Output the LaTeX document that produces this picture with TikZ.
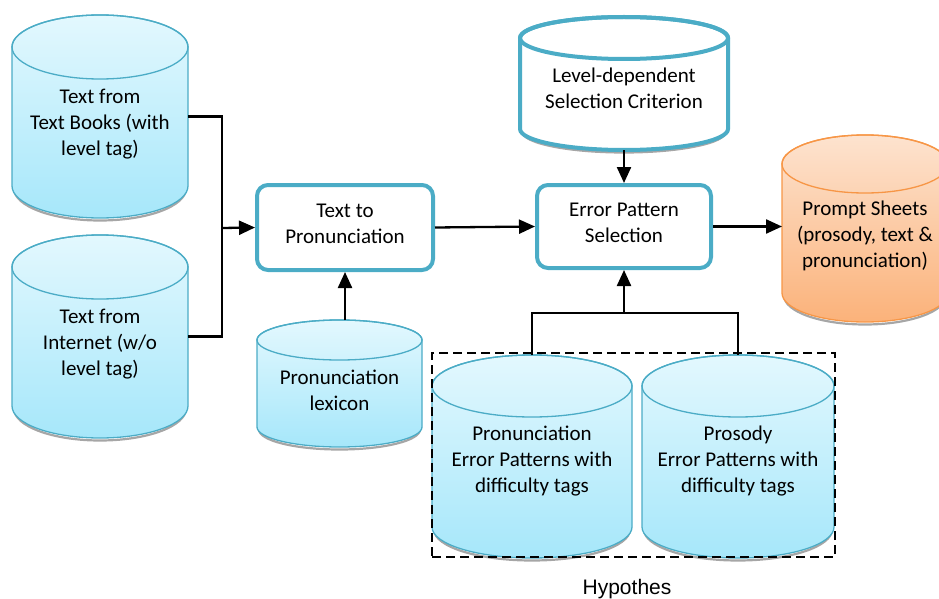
\documentclass[tikz,border=0pt]{standalone}
\usepackage{fontspec}
\setmainfont{Carlito}
\newfontfamily\hypfont{Liberation Sans}
\usetikzlibrary{arrows.meta,calc}
\definecolor{cylTop}{HTML}{E3F8FE}
\definecolor{cylBot}{HTML}{A6E7FA}
\definecolor{cylLine}{HTML}{4BACC6}
\definecolor{orTop}{HTML}{FDE3CF}
\definecolor{orBot}{HTML}{FBB27A}
\definecolor{orLine}{HTML}{F79646}
\tikzset{
  bluecyl/.style={draw=cylLine, line width=1.3pt, top color=cylTop, bottom color=cylBot},
  bluecyl line/.style={draw=cylLine, line width=1.3pt},
  orcyl/.style={draw=orLine, line width=1.3pt, top color=orTop, bottom color=orBot},
  orcyl line/.style={draw=orLine, line width=1.3pt},
  whitecyl/.style={draw=cylLine, line width=4pt, fill=white},
  whitecyl line/.style={draw=cylLine, line width=4pt},
  shadowline/.style={draw=gray!70, line width=2.2pt},
  cylnode/.style={inner sep=0pt, outer sep=0pt},
  txt/.style={align=center, font=\fontsize{21}{26}\selectfont, inner sep=0pt},
  procbox/.style={draw=cylLine, line width=4pt, fill=white, rounded corners=11pt},
  conn/.style={line width=2.3pt, draw=black},
  arr/.style={conn, -{Triangle[length=16pt,width=14pt]}},
  dashbox/.style={draw=black, line width=2.8pt, dash pattern=on 9pt off 5pt, inner sep=0pt},
}
% #1 name, #2 cx, #3 top-ellipse cy, #4 bottom-ellipse cy, #5 rx, #6 ry, #7 style, #8 text shift, #9 text
\newcommand\cylshape[9]{%
  \draw[shadowline] (#2-#5+2,#4+2.5) arc[start angle=180,end angle=0,x radius=#5-2,y radius=#6];
  \path[#7] (#2-#5,#3) -- (#2-#5,#4) arc[start angle=180,end angle=0,x radius=#5,y radius=#6]
     -- (#2+#5,#3) arc[start angle=0,end angle=-180,x radius=#5,y radius=#6] -- cycle;
  \draw[#7 line] (#2,#3) ellipse[x radius=#5,y radius=#6];
  \node[cylnode, minimum width=2*#5, minimum height=#4-#3+2*#6] (#1) at (#2,{(#3+#4)/2}) {};
  \node[txt] (#1-t) at ([yshift=-#8pt]#1.center) {#9};
}
\begin{document}
\begin{tikzpicture}[x=1pt,y=-1pt]
\useasboundingbox (0,0) rectangle (939,599);
\clip (0,0) rectangle (939,599);

\cylshape{tb}{100}{47}{186}{88}{32}{bluecyl}{7.5}{Text from\\Text Books (with\\level tag)}
\cylshape{inet}{100}{267}{406}{88}{32}{bluecyl}{7.5}{Text from\\Internet (w/o\\level tag)}
\cylshape{lex}{339.5}{340}{427}{82.5}{20}{bluecyl}{7}{Pronunciation\\lexicon}
\cylshape{lev}{624}{38}{129}{104}{21}{whitecyl}{4.5}{Level-dependent\\Selection Criterion}
\cylshape{ps}{865}{164}{293}{83}{29}{orcyl}{7.5}{Prompt Sheets\\(prosody, text \&\\pronunciation)}
\cylshape{pep}{532}{386}{527}{100}{31}{bluecyl}{4.5}{Pronunciation\\Error Patterns with\\difficulty tags}
\cylshape{prs}{738}{386}{527}{96}{31}{bluecyl}{4.5}{Prosody\\Error Patterns with\\difficulty tags}

\node[procbox, minimum width=176pt, minimum height=85pt] (t2p) at (345,227.5) {};
\node[txt] (t2p-t) at ([yshift=4pt]t2p.center) {Text to\\Pronunciation};
\node[procbox, minimum width=174pt, minimum height=83pt] (eps) at (624,226.5) {};
\node[txt] (eps-t) at ([yshift=3.5pt]eps.center) {Error Pattern\\Selection};

\node[dashbox, minimum width=403pt, minimum height=204pt] (hb) at (633.5,455) {};
\node[font=\hypfont\fontsize{21}{25}\selectfont] (hyp) at (627,589) {Hypothes};

\coordinate (lj) at (222,228);
\draw[conn] (tb.east) -| (lj);
\draw[conn] (inet.east) -| (lj);
\draw[arr] (lj) -- (t2p.west);
\draw[arr] (t2p.south |- lex.north) -- (t2p.south);
\draw[arr] (t2p.east) -- (eps.west);
\draw[arr] (lev.south) -- (eps.north);
\draw[arr] (eps.east) -- (eps.east -| ps.west);
\coordinate (bj) at (624,313);
\draw[conn] (pep.north) |- (bj) -| (prs.north);
\draw[arr] (bj) -- (eps.south);
\end{tikzpicture}
\end{document}
